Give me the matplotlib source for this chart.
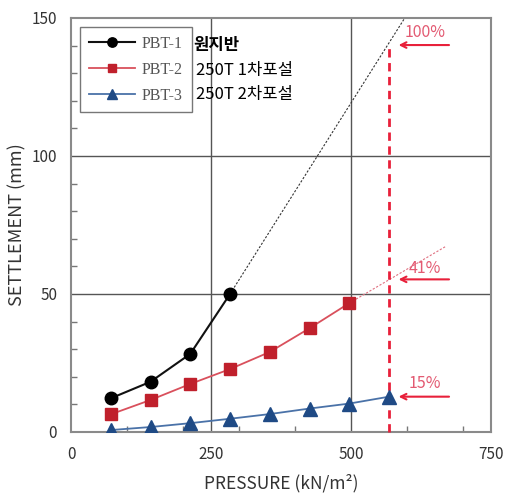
import numpy as np
import matplotlib.pyplot as plt
from matplotlib.ticker import FixedLocator

plt.rcParams['font.family'] = ['Noto Sans CJK KR', 'DejaVu Sans']

# load steps (kN/m2) and settlements (mm)
pressure = [71, 142, 213, 284, 355, 426, 497, 568]
pbt1 = [12.2, 18.2, 28.3, 50.0]
pbt2 = [6.4, 11.6, 17.4, 22.8, 29.0, 37.6, 46.7]
pbt3 = [0.7, 1.8, 3.2, 4.8, 6.5, 8.5, 10.3, 12.8]

# extrapolated trends
ext1_x = [284, 596]
ext1_y = [50.0, 150.0]
ext2_x = [497, 668]
ext2_y = [46.7, 67.1]

target_p = 568
target_s = 139.5

# ratio labels: (text, arrow y, text y)
ratios = [("100%", 140.2, 144.6), ("41%", 55.3, 59.4), ("15%", 12.8, 17.7)]

labels = ["PBT-1", "PBT-2", "PBT-3"]
notes = ["원지반", "250T 1차포설", "250T 2차포설"]

fig = plt.figure(figsize=(5.08, 4.99), dpi=100)
ax = fig.add_axes([71/508, 67/499, 420/508, 414/499])

ax.set_xlim(0, 750)
ax.set_ylim(0, 150)
ax.set_xticks([0, 250, 500, 750])
ax.set_yticks([0, 50, 100, 150])
ax.xaxis.set_minor_locator(FixedLocator([100, 200, 300, 400, 600, 700]))
ax.yaxis.set_minor_locator(FixedLocator([v for v in range(10, 150, 10) if v % 50]))
ax.tick_params(which='major', length=0, pad=10, labelsize=11, labelcolor='#333333')
ax.tick_params(which='minor', direction='in', length=4, color='#777777', width=1)
for s in ax.spines.values():
    s.set_color('#8a8a8a')
    s.set_linewidth(1.5)
for v in [250, 500]:
    ax.axvline(v, color='#555555', lw=1, zorder=1)
for v in [50, 100]:
    ax.axhline(v, color='#555555', lw=1, zorder=1)

ax.plot(ext1_x, ext1_y, color='#333333', lw=0.8, ls=(0, (2, 1.5)), zorder=2)
ax.plot(ext2_x, ext2_y, color='#e07080', lw=0.8, ls=(0, (2, 1.5)), zorder=2)

l1, = ax.plot(pressure[:len(pbt1)], pbt1, color='#111111', lw=1.5, marker='o',
              ms=9, mfc='black', mec='black', zorder=4)
l2, = ax.plot(pressure[:len(pbt2)], pbt2, color='#d9505c', lw=1.3, marker='s',
              ms=8.5, mfc='#c0202c', mec='#c0202c', zorder=4)
l3, = ax.plot(pressure, pbt3, color='#4a72a8', lw=1.3, marker='^',
              ms=10, mfc='#1f4a85', mec='#1f4a85', zorder=4)

ax.plot([target_p, target_p], [0, target_s], color='#e8203a', lw=2,
        ls=(0, (3, 2)), zorder=3, clip_on=False)

for txt, ya, yt in ratios:
    ax.annotate("", xy=(580, ya), xytext=(680, ya),
                arrowprops=dict(arrowstyle='->', color='#e8203a', lw=1.5,
                                mutation_scale=10))
    ax.text(632, yt, txt, color='#e35a72', fontsize=11.5, ha='center', va='center')

leg = ax.legend([l1, l2, l3], labels, loc='upper left', bbox_to_anchor=(0.022, 0.978),
                prop={'family': 'Liberation Serif', 'size': 11.5}, labelcolor='#555555',
                frameon=True, fancybox=False, edgecolor='#555555', handlelength=2.9,
                markerscale=0.75, borderpad=0.55, labelspacing=0.62, handletextpad=0.4,
                borderaxespad=0)
leg.get_frame().set_linewidth(1)

for i, n in enumerate(notes):
    fig.text(193/508 if i == 0 else 196/508, 1 - (45 + i * 25) / 499, n,
             fontsize=12, color='black', va='center', ha='left',
             fontweight='bold' if i == 0 else 'normal')

ax.set_xlabel("PRESSURE (kN/m²)", fontsize=12.5, color='#333333', labelpad=8)
ax.set_ylabel("SETTLEMENT (mm)", fontsize=13, color='#333333', labelpad=4)

fig.savefig("out.png", dpi=100)
